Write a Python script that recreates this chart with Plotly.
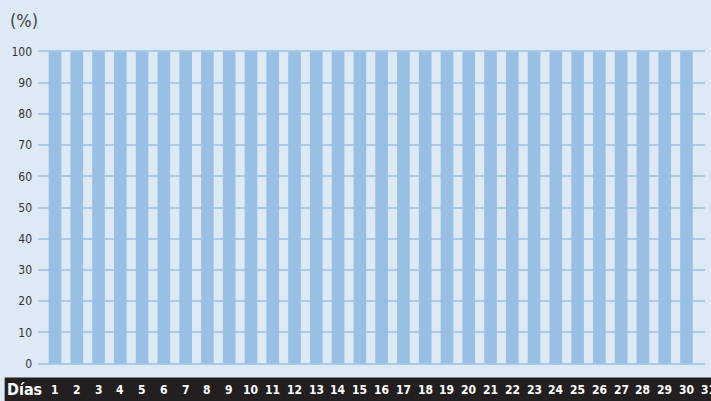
import plotly.graph_objects as go

# Daily values (%) for days 1..30
days = list(range(1, 31))
values = [100] * 30
# Labels shown along the dark strip under the chart
day_labels = [str(d) for d in range(1, 32)]
y_ticks = [0, 10, 20, 30, 40, 50, 60, 70, 80, 90, 100]

BG = "#DDE9F5"
BAR = "#9ABFE5"
GRID = "#A9CAEB"
STRIP = "#231F20"
FONT = "DejaVu Sans Condensed, Liberation Sans Narrow, Arial Narrow, sans-serif"

X_RANGE = [0.22, 30.85]


def to_paper(xv):
    # day position expressed as a fraction of the plot width (for labels past the axis end)
    return (xv - X_RANGE[0]) / (X_RANGE[1] - X_RANGE[0])


fig = go.Figure()
fig.add_trace(go.Bar(x=days, y=values, marker=dict(color=BAR, line=dict(width=0)),
                     width=0.58, hoverinfo="x+y"))

# dark label strip along the bottom
fig.add_shape(type="rect", xref="paper", yref="paper", x0=-0.05, x1=1.02,
              y0=-31 / 325, y1=-7.5 / 325, fillcolor=STRIP, line=dict(width=0), layer="below")

fig.add_annotation(text="<b>Días</b>", xref="paper", yref="paper", x=-33 / 667, y=-19.5 / 325,
                   xanchor="left", yanchor="middle", showarrow=False,
                   font=dict(family=FONT, size=16, color="white"))
for i, lab in enumerate(day_labels):
    fig.add_annotation(text=f"<b>{lab}</b>", x=to_paper(i + 1), xref="paper", yref="paper",
                       y=-19.5 / 325, xanchor="center", yanchor="middle", showarrow=False,
                       font=dict(family=FONT, size=12, color="white"))

fig.add_annotation(text="(%)", xref="paper", yref="paper", x=-30 / 667, y=1 + 24 / 325,
                   xanchor="left", yanchor="middle", showarrow=False,
                   font=dict(family=FONT, size=18, color="#444444"))

fig.update_layout(
    width=711, height=401,
    margin=dict(l=38, r=6, t=45, b=31),
    paper_bgcolor=BG, plot_bgcolor=BG,
    showlegend=False,
    xaxis=dict(range=X_RANGE, showticklabels=False, showgrid=False,
               zeroline=False, ticks=""),
    yaxis=dict(range=[-2.08, 102.08], tickvals=y_ticks, showgrid=True,
               gridcolor=GRID, gridwidth=1.5, zeroline=False, ticks="",
               ticklabelstandoff=5,
               tickfont=dict(family=FONT, size=12, color="#333333")),
)

fig.write_html("out.html")
